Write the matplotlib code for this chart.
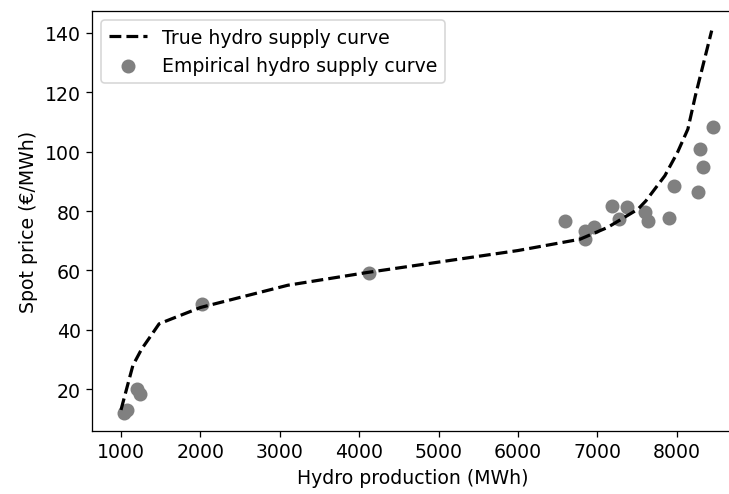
import matplotlib
matplotlib.use("Agg")
import matplotlib.pyplot as plt

# True hydro supply curve
curve_x = [1000, 1070, 1150, 1260, 1390, 1480, 1620, 2000, 3100, 4100, 5000, 6000,
           6780, 7130, 7510, 7610, 7850, 8010, 8140, 8235, 8440]
curve_y = [13.0, 20.0, 28.0, 33.5, 38.5, 42.0, 43.5, 47.5, 55.0, 59.3, 62.8, 66.7,
           70.5, 74.5, 80.6, 83.4, 91.9, 99.8, 107.6, 118.9, 140.8]

# Empirical hydro supply curve points
emp_x = [1040, 1070, 1201, 1237, 2025, 4124, 6590, 6848, 6848, 6962, 7180, 7273,
         7376, 7603, 7643, 7902, 7963, 8262, 8288, 8328, 8452]
emp_y = [11.8, 13.0, 19.9, 18.2, 48.6, 59.0, 76.7, 73.3, 70.5, 74.5, 81.8, 77.3,
         81.2, 79.7, 76.5, 77.8, 88.5, 86.5, 100.9, 94.9, 108.2]

x_ticks = [1000, 2000, 3000, 4000, 5000, 6000, 7000, 8000]
y_ticks = [20, 40, 60, 80, 100, 120, 140]

plt.rcParams["font.size"] = 11.8

dpi = 115
fig = plt.figure(figsize=(729 / dpi, 495 / dpi), dpi=dpi)
ax = fig.add_axes([92 / 729, 1 - 432 / 495, (734 - 92) / 729, (432 - 12) / 495])

ax.plot(curve_x, curve_y, linestyle="--", color="black", linewidth=2,
        label="True hydro supply curve")
ax.scatter(emp_x, emp_y, color="gray", s=60, label="Empirical hydro supply curve")

ax.set_xlim(635, 8721)
ax.set_ylim(5.9, 147.4)
ax.set_xticks(x_ticks)
ax.set_yticks(y_ticks)
ax.set_xlabel("Hydro production (MWh)")
ax.set_ylabel("Spot price (€/MWh)")
ax.legend(loc="upper left")

fig.savefig("out.png", dpi=dpi)
